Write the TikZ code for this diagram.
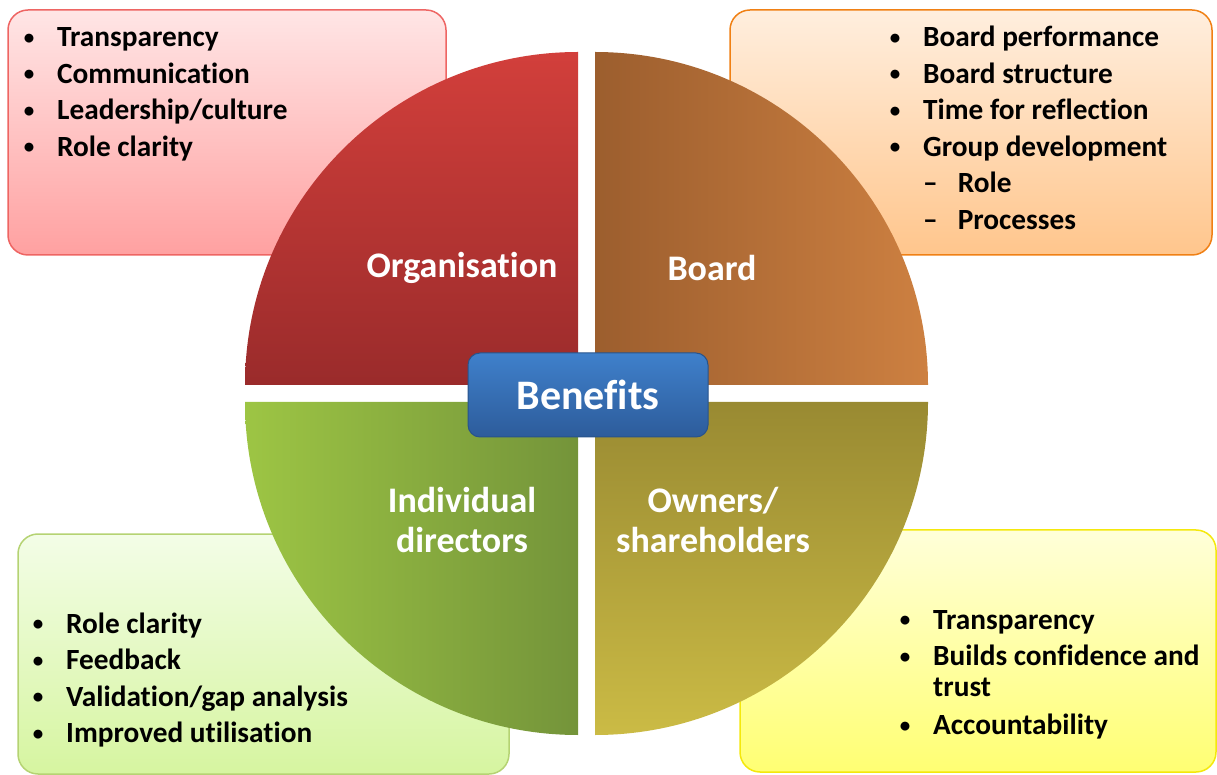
\documentclass[tikz,border=0pt]{standalone}
\usepackage{fontspec}
\setmainfont{Carlito}[Ligatures=NoCommon]
\usetikzlibrary{calc}
\usetikzlibrary{positioning}
\definecolor{orgtop}{HTML}{D23F3B}
\definecolor{orgbot}{HTML}{9A2B2B}
\definecolor{brdleft}{HTML}{9C5E2E}
\definecolor{brdright}{HTML}{CD8041}
\definecolor{dirleft}{HTML}{9DC544}
\definecolor{dirright}{HTML}{74943A}
\definecolor{owntop}{HTML}{998A32}
\definecolor{ownbot}{HTML}{CBBB45}
\definecolor{hubtop}{HTML}{3F80CB}
\definecolor{hubbot}{HTML}{2D5C9B}
\definecolor{dirboxtop}{HTML}{F3FDE7}
\definecolor{dirboxbot}{HTML}{D6F5A0}
\tikzset{
	align=center,
	listbox/.style={
		draw,
		rectangle,
		rounded corners=20pt,
		line width=1.5pt,
		anchor=north west,
		outer sep=0pt,
	},
	items/.style={
		anchor=base west,
		inner sep=0pt,
		font=\bfseries\fontsize{29.3}{36.5}\selectfont,
	},
	qlabel/.style={
		text=white,
		inner sep=0pt,
		font=\bfseries\fontsize{36}{40}\selectfont,
	},
	hub/.style={
		draw=hubbot!90!black,
		rounded corners=12pt,
		line width=1pt,
		top color=hubtop,
		bottom color=hubbot,
		minimum width=240pt,
		minimum height=84pt,
		text=white,
		font=\bfseries\fontsize{42}{46}\selectfont,
	},
}
\newcommand{\bl}{\makebox[14pt][c]{\raisebox{2.5pt}{\fontsize{21}{21}\selectfont\textbullet}}}

\begin{document}
\begin{tikzpicture}[x=1pt,y=1pt]
		\useasboundingbox (0,0) rectangle (1217,774);

		% boxes behind the circle
		\node[listbox,draw=red!45!orgtop!70,top color=red!10,bottom color=red!37,minimum width=438pt,minimum height=245pt] (orgbox) at (8,764) {};
		\node[listbox,draw=orange!70!brdright,top color=orange!13,bottom color=orange!45,minimum width=482pt,minimum height=245pt] (brdbox) at (730,764) {};
		\node[listbox,draw=dirleft!75,top color=dirboxtop,bottom color=dirboxbot,minimum width=491pt,minimum height=240pt] (dirbox) at (18,240) {};
		\node[listbox,draw=yellow!95!black,top color=yellow!15,bottom color=yellow!55,minimum width=476pt,minimum height=242pt] (ownbox) at (740,244) {};

		\node[items] (orglist) at ($(orgbox.north west)+(14,-37)$) {\begin{tabular}[t]{@{}l@{\hspace{21pt}}l@{}}
			\bl & Transparency\\
			\bl & Communication\\
			\bl & Leadership/culture\\
			\bl & Role clarity
		\end{tabular}};
		\node[items] (brdlist) at ($(brdbox.north west)+(158,-37)$) {\begin{tabular}[t]{@{}l@{\hspace{21pt}}l@{}}
			\bl & Board performance\\
			\bl & Board structure\\
			\bl & Time for reflection\\
			\bl & Group development\\
			& \textendash\hspace{20pt}Role\\
			& \textendash\hspace{20pt}Processes
		\end{tabular}};
		\node[items] (dirlist) at ($(dirbox.north west)+(13,-99)$) {\begin{tabular}[t]{@{}l@{\hspace{21pt}}l@{}}
			\bl & Role clarity\\
			\bl & Feedback\\
			\bl & Validation/gap analysis\\
			\bl & Improved utilisation
		\end{tabular}};
		\node[items] (ownlist) at ($(ownbox.north west)+(158,-99)$) {\begin{tabular}[t]{@{}l@{\hspace{21pt}}l@{}}
			\bl & Transparency\\
			\bl & Builds confidence and\\\noalign{\vskip-6pt}
			& trust\\\noalign{\vskip2pt}
			\bl & Accountability
		\end{tabular}};

		% the four quarters
		\shade[top color=orgtop,bottom color=orgbot] (578,389) -- (245,389) arc[start angle=180,end angle=90,radius=333] -- cycle;
		\shade[left color=brdleft,right color=brdright] (595,389) -- (595,722) arc[start angle=90,end angle=0,radius=333] -- cycle;
		\shade[left color=dirleft,right color=dirright] (578,372) -- (578,39) arc[start angle=270,end angle=180,radius=333] -- cycle;
		\shade[top color=owntop,bottom color=ownbot] (595,372) -- (928,372) arc[start angle=0,end angle=-90,radius=333] -- cycle;

		\node[qlabel] (org) at (462,506) {Organisation};
		\node[qlabel] (brd) at (712,506) {Board};
		\node[qlabel] (dirs) at (462,254) {Individual\\directors};
		\node[qlabel] (owners) at (713,254) {Owners/\\shareholders};

		\node[hub] (benefits) at (588,379) {Benefits};

	\end{tikzpicture}
\end{document}
